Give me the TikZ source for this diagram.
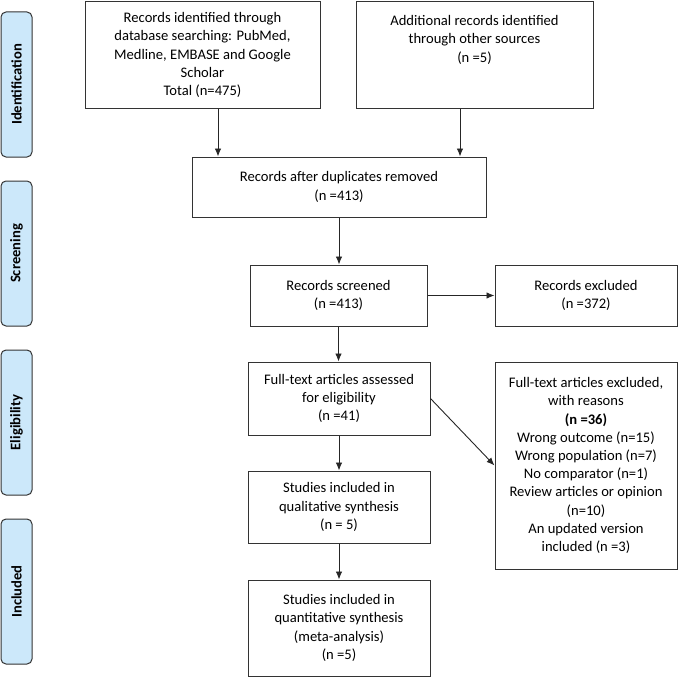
\documentclass[tikz,border=0pt]{standalone}
\usepackage{fontspec}
\setmainfont{Carlito}
\usetikzlibrary{arrows.meta}

\tikzset{
  box/.style={draw=black!80, line width=1pt, align=center, inner sep=0pt,
    font=\fontsize{14.6}{18.2}\selectfont},
  stage/.style={draw=black!80, line width=1pt, fill=stagefill, rounded corners=5pt,
    minimum width=31pt, minimum height=145pt, inner sep=0pt},
  stagetext/.style={rotate=90, font=\fontsize{14.6}{17}\selectfont\bfseries},
  arr/.style={-{Latex[length=8pt,width=6.5pt]}, line width=0.9pt, draw=black!85}
}
\definecolor{stagefill}{HTML}{CCE8FA}

\begin{document}
\begin{tikzpicture}[x=1pt,y=-1pt]
    \useasboundingbox (0,0) rectangle (678,677);

    % stage labels
    \node[stage] (lblIdent) at (16.5,84.5) {};
    \node[stagetext] at (lblIdent) {Identification};
    \node[stage] (lblScreen) at (16.5,253.5) {};
    \node[stagetext] at (lblScreen) {Screening};
    \node[stage] (lblElig) at (16.5,422.5) {};
    \node[stagetext] at (lblElig) {Eligibility};
    \node[stage] (lblIncl) at (16.5,591.5) {};
    \node[stagetext] at (lblIncl) {Included};

    % boxes
    \node[box, minimum width=235pt, minimum height=107pt] (ident) at (202.5,55)
        {Records identified through\\database searching: PubMed,\\Medline, EMBASE and Google\\Scholar\\Total (n=475)};
    \node[box, minimum width=237pt, minimum height=107pt] (addl) at (474.5,55)
        {\parbox[c][95pt][t]{230pt}{\centering\vspace*{8pt}Additional records identified\\through other sources\\(n =5)}};
    \node[box, minimum width=294pt, minimum height=60pt] (dedup) at (339,187)
        {Records after duplicates removed\\(n =413)};
    \node[box, minimum width=177pt, minimum height=61pt] (screened) at (338.5,295.5)
        {Records screened\\(n =413)};
    \node[box, minimum width=182pt, minimum height=61pt] (excl) at (586,295.5)
        {Records excluded\\(n =372)};
    \node[box, minimum width=182pt, minimum height=73pt] (fulltext) at (339,398.5)
        {Full-text articles assessed\\for eligibility\\(n =41)};
    \node[box, minimum width=182pt, minimum height=207pt] (fullexcl) at (586,465.5)
        {Full-text articles excluded,\\with reasons\\\textbf{(n =36)}\\Wrong outcome (n=15)\\Wrong population (n=7)\\No comparator (n=1)\\Review articles or opinion\\(n=10)\\An updated version\\included (n =3)};
    \node[box, minimum width=182pt, minimum height=72pt] (qual) at (339,507)
        {Studies included in\\qualitative synthesis\\(n = 5)};
    \node[box, minimum width=182pt, minimum height=96pt] (quant) at (339,628)
        {Studies included in\\quantitative synthesis\\(meta-analysis)\\(n =5)};

    % connectors
    \draw[arr] ([xshift=15.5pt]ident.south) -- ([xshift=15.5pt]ident.south |- dedup.north);
    \draw[arr] ([xshift=-14.5pt]addl.south) -- ([xshift=-14.5pt]addl.south |- dedup.north);
    \draw[arr] (dedup.south) -- (dedup.south |- screened.north);
    \draw[arr] (screened.east) -- (excl.west);
    \draw[arr] (screened.south) -- (screened.south |- fulltext.north);
    \draw[arr] (fulltext.east) -- (fullexcl.west);
    \draw[arr] (fulltext.south) -- (qual.north);
    \draw[arr] (qual.south) -- (quant.north);
\end{tikzpicture}
\end{document}
